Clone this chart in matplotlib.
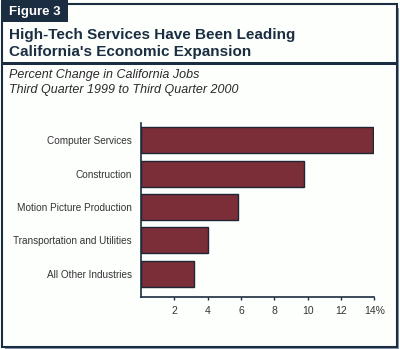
import matplotlib.pyplot as plt
from matplotlib.patches import Rectangle

plt.rcParams['font.family'] = ['Liberation Sans', 'DejaVu Sans']

# Percent change in California jobs, Q3 1999 to Q3 2000
industries = ['Computer Services', 'Construction', 'Motion Picture Production',
              'Transportation and Utilities', 'All Other Industries']
pct_change = [13.9, 9.8, 5.8, 4.0, 3.2]
xticks = [2, 4, 6, 8, 10, 12, 14]
xtick_labels = ['2', '4', '6', '8', '10', '12', '14%']

W, H = 400, 349
NAVY = '#1b2d40'
BAR = '#7b2e37'
BG = '#fdfffd'


def fx(px):
    return px / W


def fy(py):
    return 1 - py / H


def box(x0, y0, x1, y1, **kw):
    # rectangle given in figure pixels, y measured from the top
    return Rectangle((fx(x0), fy(y1)), fx(x1) - fx(x0), fy(y0) - fy(y1),
                     transform=fig.transFigure, **kw)


fig = plt.figure(figsize=(W / 100, H / 100), dpi=100)
fig.patch.set_facecolor(BG)

# frame, shadow and header decorations
fig.patches.append(box(5, 8, 399, 349, facecolor='#8a96a8', edgecolor='none', zorder=0))
fig.patches.append(box(1.5, 3.5, 396.5, 347, facecolor=BG, edgecolor=NAVY,
                       linewidth=1.5, zorder=1))
fig.patches.append(box(1, 62, 397, 65, facecolor=NAVY, edgecolor='none', zorder=2))
fig.patches.append(box(1, 0, 68, 22, facecolor=NAVY, edgecolor='none', zorder=2))

fig.text(fx(9), fy(12), 'Figure 3', color='white', fontsize=9.5,
         fontweight='bold', va='center', ha='left', zorder=3)
fig.text(fx(9), fy(35), 'High-Tech Services Have Been Leading',
         color=NAVY, fontsize=11, fontweight='bold', va='center', zorder=3)
fig.text(fx(9), fy(52), "California's Economic Expansion",
         color=NAVY, fontsize=11, fontweight='bold', va='center', zorder=3)
fig.text(fx(9), fy(75), 'Percent Change in California Jobs',
         color='#2a2a2a', fontsize=9, style='italic', va='center', zorder=3)
fig.text(fx(9), fy(90), 'Third Quarter 1999 to Third Quarter 2000',
         color='#2a2a2a', fontsize=9, style='italic', va='center', zorder=3)

ax = fig.add_axes([fx(141), fy(297), fx(374.3) - fx(141), fy(123) - fy(297)])
ax.set_facecolor('none')
ax.set_zorder(4)

ypos = list(range(len(industries)))
ax.barh(ypos, pct_change, height=0.78, color=BAR, edgecolor='#1f2535',
        linewidth=1.0)

ax.set_xlim(0, 14)
ax.set_ylim(len(industries) - 1 + 0.705, -0.52)
ax.set_xticks(xticks)
ax.set_xticklabels(xtick_labels)
ax.set_yticks(ypos)
ax.set_yticklabels(industries)

for side in ['top', 'right']:
    ax.spines[side].set_visible(False)
for side in ['left', 'bottom']:
    ax.spines[side].set_color(NAVY)
    ax.spines[side].set_linewidth(1.2)

ax.tick_params(axis='x', length=2.5, width=1, color=NAVY, pad=4,
               labelsize=7.5, labelcolor='#333333')
ax.tick_params(axis='y', length=0, pad=6.5, labelsize=7.2, labelcolor='#333333')

fig.savefig('out.png', dpi=100, facecolor=fig.get_facecolor())
